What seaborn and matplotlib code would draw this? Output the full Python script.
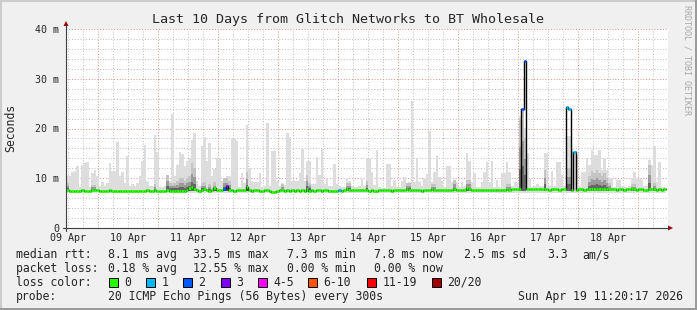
import matplotlib
matplotlib.use("Agg")
import matplotlib.pyplot as plt
import seaborn as sns
import numpy as np
import pandas as pd
from matplotlib.patches import Rectangle, Polygon
from matplotlib.lines import Line2D

# ---------------- data (hours since Apr 09 11:20, one value per hour) ----------------
day_labels = ["09 Apr", "10 Apr", "11 Apr", "12 Apr", "13 Apr",
              "14 Apr", "15 Apr", "16 Apr", "17 Apr", "18 Apr"]

median_rtt_ms = [
    7.6, 7.4, 7.4, 7.5, 7.4, 7.5, 7.6, 7.5, 7.4, 7.4, 7.6, 7.7, 7.6, 7.5, 7.4, 7.4, 7.5, 7.6, 7.5, 7.4, 7.5, 7.4, 7.5, 7.4,
    7.5, 7.4, 7.4, 7.5, 7.5, 7.4, 7.4, 7.5, 7.6, 7.5, 7.4, 7.6, 7.5, 7.5, 7.5, 7.4, 7.7, 7.5, 7.4, 7.4, 7.5, 7.5, 7.4, 7.5,
    7.6, 8.0, 8.3, 7.9, 7.7, 7.5, 7.6, 7.9, 7.6, 7.5, 7.6, 8.0, 7.7, 7.6, 7.7, 7.9, 8.4, 7.7, 7.6, 7.5, 7.6, 7.7, 7.6, 7.7,
    8.2, 7.6, 7.5, 7.6, 7.6, 7.5, 7.4, 7.6, 7.6, 7.5, 7.3, 7.3, 7.5, 7.6, 7.7, 7.5, 7.6, 7.5, 7.6, 7.5, 7.6, 7.5, 7.6, 7.5,
    7.9, 7.5, 7.6, 7.4, 7.6, 7.6, 7.5, 7.6, 7.6, 7.4, 7.5, 7.5, 7.5, 7.6, 7.5, 7.6, 7.8, 7.6, 7.6, 7.6, 7.6, 7.6, 7.6, 7.6,
    7.6, 7.5, 7.6, 7.4, 7.5, 7.6, 7.6, 7.6, 7.6, 7.6, 7.5, 7.6, 7.6, 7.6, 7.6, 7.7, 7.9, 7.7, 7.6, 7.6, 7.6, 7.6, 7.5, 7.6,
    7.6, 7.7, 7.9, 7.6, 7.6, 7.6, 7.6, 7.6, 7.6, 7.6, 7.6, 7.8, 7.6, 7.6, 7.6, 7.7, 8.0, 7.9, 7.6, 7.6, 7.6, 7.6, 7.6, 7.7,
    7.7, 7.6, 7.6, 7.6, 7.6, 7.7, 7.7, 7.7, 7.9, 7.7, 7.8, 7.8, 7.8, 7.9, 24.0, 33.5, 7.8, 7.8, 7.9, 7.9, 7.8, 7.8, 7.9, 7.9,
    7.8, 7.7, 7.8, 7.8, 7.8, 7.7, 7.8, 7.8, 24.3, 24.0, 7.7, 15.2, 7.7, 7.8, 7.8, 7.7, 7.8, 7.8, 7.8, 7.8, 7.9, 7.8, 7.8, 7.8,
    7.8, 7.8, 7.8, 7.8, 7.7, 7.8, 7.8, 7.7, 7.8, 7.8, 7.8, 7.8, 7.7, 7.8, 7.8, 7.7, 7.7, 7.8, 7.8, 7.8, 7.6, 7.8, 7.7, 7.8,
]

smoke_max_ms = [
    10.4, 10.4, 11.3, 11.5, 12.4, 8.2, 12.6, 13.0, 13.2, 8.2, 11.0, 11.7, 10.5, 8.5, 9.3, 8.5, 9.0, 13.0, 11.5, 11.4,
    17.3, 10.5, 11.2, 9.0, 14.5, 8.5, 8.9, 8.5, 9.0, 10.5, 13.5, 16.6, 9.5, 8.5, 8.5, 18.6, 15.2, 8.3, 8.3, 8.4,
    10.7, 9.4, 22.9, 10.4, 12.6, 15.3, 14.8, 12.5, 13.4, 14.0, 17.7, 19.1, 9.5, 8.5, 16.4, 18.2, 13.5, 17.0, 10.5, 11.8,
    14.1, 14.1, 9.5, 9.0, 10.4, 10.4, 17.8, 17.8, 17.4, 8.3, 11.0, 9.0, 20.8, 12.0, 9.4, 9.3, 9.3, 11.0, 8.3, 8.5,
    21.2, 8.5, 15.4, 15.4, 9.4, 8.4, 9.0, 8.6, 19.0, 18.2, 9.5, 9.5, 9.4, 11.0, 15.9, 9.4, 13.5, 13.4, 8.8, 8.8,
    14.2, 10.6, 15.9, 8.8, 10.1, 8.5, 8.5, 12.9, 8.8, 8.4, 8.2, 8.2, 10.0, 9.4, 8.4, 8.2, 8.2, 8.4, 9.8, 8.4,
    14.0, 14.1, 11.2, 8.6, 15.7, 8.2, 8.0, 8.0, 12.8, 12.8, 8.5, 9.6, 8.2, 8.3, 9.4, 10.2, 9.0, 9.2, 25.6, 9.2,
    14.1, 9.2, 8.4, 10.0, 10.8, 19.5, 9.3, 11.2, 14.5, 10.2, 9.4, 8.2, 12.5, 12.5, 9.2, 9.6, 9.2, 8.2, 9.2, 8.5,
    15.1, 13.5, 9.2, 11.0, 8.2, 8.2, 9.2, 11.2, 13.3, 9.2, 13.5, 8.3, 9.6, 8.2, 11.0, 11.0, 13.2, 11.2, 8.5, 9.2,
    9.3, 22.5, 24.0, 20.2, 15.0, 9.8, 8.3, 8.5, 8.8, 8.5, 8.5, 15.0, 15.0, 8.5, 11.5, 8.5, 13.3, 13.3, 10.7, 8.5,
    18.4, 18.4, 16.0, 15.2, 14.7, 8.5, 11.3, 11.3, 14.0, 12.7, 15.7, 14.7, 14.7, 15.7, 11.7, 14.0, 11.7, 10.0, 10.0, 8.3,
    9.6, 9.6, 8.5, 8.2, 8.2, 8.5, 10.0, 11.3, 10.0, 10.0, 9.6, 8.5, 8.5, 13.7, 12.7, 16.5, 9.3, 13.3, 8.3, 8.3,
]
smoke_min_ms = 7.0

dark_hours = [0, 10, 11, 35, 40, 41, 42, 43, 44, 45, 46, 47, 48, 49, 50, 51, 54, 55, 57, 59,
              63, 64, 65, 72, 86, 96, 97, 112, 113, 120, 136, 137, 146, 147, 155, 160, 161,
              176, 177, 181, 182, 183, 191, 200, 201, 209, 210, 211, 212, 213, 214, 215, 216, 217,
              226, 227, 233, 235]
dark_tops_ms = [9.0, 8.6, 8.6, 8.8, 10.7, 9.0, 9.0, 9.0, 9.5, 10.0, 10.0, 9.5, 10.0, 10.5, 13.0, 12.0, 9.0, 9.2, 8.8, 9.2,
                10.0, 10.0, 9.5, 11.3, 8.8, 10.6, 9.0, 9.0, 9.0, 9.4, 9.0, 9.0, 8.8, 8.8, 9.6, 9.6, 9.6,
                8.8, 8.8, 22.0, 24.0, 18.0, 11.7, 12.0, 12.0, 10.5, 11.5, 11.0, 11.7, 11.0, 10.5, 11.0, 10.0, 9.0,
                8.8, 8.8, 12.7, 9.0]

loss_hours = [63, 64, 109, 182, 183, 200, 201, 203]
loss_levels = [2, 3, 1, 2, 2, 1, 1, 1]

loss_labels = ["0", "1", "2", "3", "4-5", "6-10", "11-19", "20/20"]
loss_colors = ["#26ff00", "#00b8ff", "#0059ff", "#7e00ff", "#ff00ff", "#ff5500", "#ff0000", "#a10000"]

rtt_stats = ["8.1 ms avg", "33.5 ms max", "7.3 ms min", "7.8 ms now", "2.5 ms sd", "3.3", "am/s"]
loss_stats = ["0.18 % avg", "12.55 % max", "0.00 % min", "0.00 % now"]
probe_text = "20 ICMP Echo Pings (56 Bytes) every 300s"
stamp_text = "Sun Apr 19 11:20:17 2026"
title_text = "Last 10 Days from Glitch Networks to BT Wholesale"

# ---------------- figure ----------------
sns.set_style("white")
plt.rcParams["font.family"] = ["DejaVu Sans Mono"]
W, H = 697, 310
fig = plt.figure(figsize=(W / 100, H / 100), dpi=100)
fig.patch.set_facecolor("#f0f0f0")

ax = fig.add_axes([66 / W, (H - 228) / H, 602 / W, 199 / H])
ax.set_facecolor("white")
X0, X1 = 0.0, 240.8
ax.set_xlim(X0, X1)
ax.set_ylim(0, 40)

n = len(median_rtt_ms)
hours = np.arange(n)
noon = 2.0 / 3.0           # Apr 09 12:00 relative to 11:20
midn = noon + 12.0         # first midnight

# grid (dotted lines)
gkw = dict(lw=0.72, linestyle=(0, (1, 1.8)), zorder=0.5)
for k in range(0, 41):
    xv = noon + 6 * k
    if xv > X1:
        break
    if abs(((xv - midn) / 24) - round((xv - midn) / 24)) < 1e-6:
        continue
    ax.axvline(xv, color="#c0c0c0", **gkw)
for yv in range(2, 41, 2):
    if yv % 10:
        ax.axhline(yv, color="#c0c0c0", **gkw)
for k in range(10):
    ax.axvline(midn + 24 * k, color="#e09090", **gkw)
for yv in (10, 20, 30, 40):
    ax.axhline(yv, color="#e09090", **gkw)

# smoke (light envelope)
edges = np.arange(n + 1)
ax.fill_between(edges, smoke_min_ms, list(smoke_max_ms) + [smoke_max_ms[-1]],
                step="post", color="#dddddd", lw=0, zorder=1)

# darker inner smoke
base = 7.5
for h, top in zip(dark_hours, dark_tops_ms):
    for frac, col in ((1.0, "#c4c4c4"), (0.6, "#9a9a9a"), (0.3, "#666666")):
        ax.bar(h, (top - base) * frac, bottom=base, width=1.0, align="edge",
               color=col, lw=0, zorder=1.5)

# median line: black step underneath, loss-coloured segments on top
df = pd.DataFrame({"hour": list(edges), "rtt": list(median_rtt_ms) + [median_rtt_ms[-1]]})
sns.lineplot(data=df, x="hour", y="rtt", estimator=None, drawstyle="steps-post",
             color="black", lw=1.0, ax=ax, zorder=3)
seg_cols = [loss_colors[0]] * n
for h, lv in zip(loss_hours, loss_levels):
    seg_cols[h] = loss_colors[lv]
ax.hlines(median_rtt_ms, hours, hours + 1, colors=seg_cols, lw=1.9, zorder=4)
ax.set_xlabel("")
ax.set_ylabel("")

# ticks
ax.set_yticks([0, 10, 20, 30, 40])
ax.set_yticklabels(["0", "10 m", "20 m", "30 m", "40 m"])
ax.set_xticks([midn + 24 * k for k in range(10)])
ax.set_xticklabels([])
ax.set_xticks([noon + 24 * k for k in range(10)], minor=True)
ax.set_xticklabels(day_labels, minor=True)
ax.tick_params(axis="y", which="major", length=2.5, width=0.7, color="#404040",
               pad=2.2, labelsize=7.2, direction="out")
ax.tick_params(axis="x", which="major", length=2.0, width=0.7, color="#404040", direction="out")
ax.tick_params(axis="x", which="minor", length=0, pad=3.5, labelsize=7.2)
for s in ax.spines.values():
    s.set_visible(False)
ax.grid(False)

# axes lines with arrows (figure pixel coordinates)
def fx(px):
    return px / W

def fy(py):
    return 1 - py / H

fig.add_artist(Line2D([fx(66), fx(66)], [fy(231), fy(25)], color="#404040", lw=0.8))
fig.add_artist(Line2D([fx(63), fx(669)], [fy(228), fy(228)], color="#404040", lw=0.8))
fig.add_artist(Polygon([[fx(63.5), fy(26)], [fx(68.5), fy(26)], [fx(66), fy(21)]],
                       closed=True, color="#a00000", lw=0))
fig.add_artist(Polygon([[fx(668), fy(225.5)], [fx(668), fy(230.5)], [fx(673), fy(228)]],
                       closed=True, color="#a00000", lw=0))

# frame shading
fig.add_artist(Line2D([0, 1], [fy(0.5), fy(0.5)], color="#cbcbcb", lw=1.4))
fig.add_artist(Line2D([fx(0.5), fx(0.5)], [0, 1], color="#cbcbcb", lw=1.4))
fig.add_artist(Line2D([0, 1], [fy(309.3), fy(309.3)], color="#999999", lw=1.4))
fig.add_artist(Line2D([fx(696.3), fx(696.3)], [0, 1], color="#999999", lw=1.4))

# texts
def ftext(xp, yp, s, **kw):
    kw.setdefault("fontsize", 8.3)
    kw.setdefault("va", "center")
    kw.setdefault("family", "DejaVu Sans Mono")
    fig.text(fx(xp), fy(yp), s, **kw)

ftext(348, 19, title_text, fontsize=9.6, ha="center")
ftext(11, 127.5, "Seconds", rotation=90, ha="center")
ftext(687.5, 60, "RRDTOOL / TOBI OETIKER", rotation=270, ha="center", fontsize=6.0, color="#a8a8a8")

row_y = [254.5, 268.3, 282.0, 296.2]
ftext(16, row_y[0], "median rtt:")
for xp, s in zip([107.5, 193, 287, 373.5, 464.5, 547, 582], rtt_stats):
    ftext(xp, row_y[0], s)
ftext(16, row_y[1], "packet loss:")
for xp, s in zip([107.5, 193, 287, 373.5], loss_stats):
    ftext(xp, row_y[1], s)
ftext(16, row_y[2], "loss color:")
box_x = [108.5, 146, 182.5, 220.5, 257.5, 308, 367, 432]
for bx, lab, col in zip(box_x, loss_labels, loss_colors):
    fig.add_artist(Rectangle((fx(bx), fy(row_y[2] + 4.5)), 9 / W, 9 / H,
                             facecolor=col, edgecolor="black", lw=0.7))
    ftext(bx + 15.5, row_y[2], lab)
ftext(16, row_y[3], "probe:")
ftext(107.5, row_y[3], probe_text)
ftext(683, row_y[3], stamp_text, ha="right")

fig.savefig("out.png", dpi=100, facecolor=fig.get_facecolor())
